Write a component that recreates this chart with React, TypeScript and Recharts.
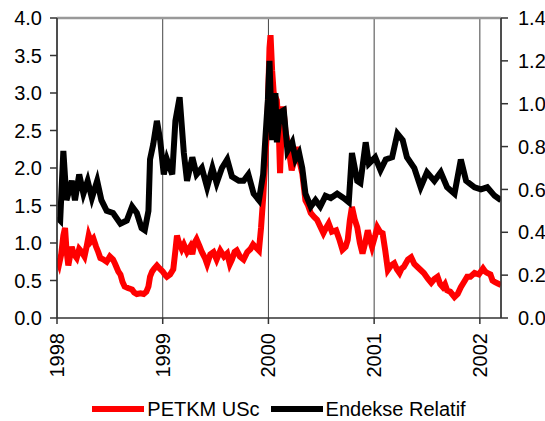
import { LineChart, Line, XAxis, YAxis, CartesianGrid, ReferenceLine, Legend } from "recharts";

// PETKM USc (left axis)
const petkmDates = [
  1998.0, 1998.02, 1998.04, 1998.06, 1998.076, 1998.09, 1998.107, 1998.12, 1998.139, 1998.16,
  1998.186, 1998.21, 1998.234, 1998.26, 1998.28, 1998.3, 1998.32, 1998.344, 1998.37, 1998.39,
  1998.41, 1998.44, 1998.47, 1998.5, 1998.53, 1998.55, 1998.58, 1998.6, 1998.62, 1998.64,
  1998.67, 1998.71, 1998.73, 1998.755, 1998.79, 1998.82, 1998.845, 1998.865, 1998.88, 1998.9,
  1998.92, 1998.945, 1998.97, 1999.0, 1999.02, 1999.04, 1999.07, 1999.1, 1999.12, 1999.135,
  1999.15, 1999.18, 1999.2, 1999.23, 1999.26, 1999.28, 1999.3, 1999.32, 1999.35, 1999.37,
  1999.4, 1999.42, 1999.45, 1999.48, 1999.51, 1999.545, 1999.58, 1999.61, 1999.635, 1999.655,
  1999.68, 1999.7, 1999.73, 1999.765, 1999.8, 1999.83, 1999.855, 1999.875, 1999.91, 1999.93,
  1999.95, 1999.97, 1999.99, 2000.01, 2000.02, 2000.035, 2000.05, 2000.08, 2000.1, 2000.11,
  2000.125, 2000.14, 2000.16, 2000.19, 2000.22, 2000.245, 2000.27, 2000.3, 2000.32, 2000.35,
  2000.375, 2000.4, 2000.43, 2000.46, 2000.49, 2000.52, 2000.545, 2000.57, 2000.6, 2000.64,
  2000.67, 2000.7, 2000.73, 2000.75, 2000.77, 2000.79, 2000.815, 2000.84, 2000.865, 2000.89,
  2000.915, 2000.94, 2000.96, 2000.98, 2001.01, 2001.03, 2001.055, 2001.08, 2001.105, 2001.13,
  2001.16, 2001.19, 2001.215, 2001.24, 2001.26, 2001.28, 2001.32, 2001.35, 2001.38, 2001.41,
  2001.44, 2001.47, 2001.51, 2001.54, 2001.57, 2001.6, 2001.625, 2001.65, 2001.67, 2001.69,
  2001.72, 2001.76, 2001.79, 2001.82, 2001.85, 2001.88, 2001.91, 2001.95, 2001.99, 2002.03,
  2002.05, 2002.07, 2002.1, 2002.12, 2002.14, 2002.17, 2002.2,
];
const petkmValues = [
  0.8, 0.72, 0.85, 1.1, 1.2, 0.9, 0.7, 0.8, 0.95, 0.85,
  0.8, 0.92, 0.88, 0.82, 0.95, 1.1, 1.02, 1.06, 0.95, 0.88,
  0.8, 0.78, 0.75, 0.82, 0.78, 0.72, 0.62, 0.58, 0.48, 0.42,
  0.4, 0.38, 0.34, 0.32, 0.33, 0.32, 0.35, 0.42, 0.55, 0.62,
  0.66, 0.7, 0.66, 0.62, 0.58, 0.55, 0.58, 0.65, 0.9, 1.1,
  1.02, 0.92, 0.98, 0.88, 0.95, 0.85, 1.0, 1.05, 0.95, 0.88,
  0.8, 0.72, 0.85, 0.88, 0.78, 0.9, 0.82, 0.86, 0.72, 0.78,
  0.88, 0.9, 0.82, 0.78, 0.88, 0.92, 0.98, 0.95, 0.9, 1.2,
  1.6, 2.1, 2.6, 3.6, 3.77, 3.3, 3.0, 2.9, 2.4, 1.93,
  2.5, 2.82, 2.5, 2.28, 1.97, 2.1, 2.28, 2.05, 1.93, 1.57,
  1.5, 1.4, 1.35, 1.31, 1.22, 1.13, 1.2, 1.26, 1.15, 1.17,
  1.05, 0.91, 0.95, 1.04, 1.3, 1.48, 1.32, 1.21, 1.0, 0.86,
  1.0, 1.17, 1.05, 0.95, 1.1, 1.21, 1.15, 1.13, 0.9, 0.64,
  0.7, 0.73, 0.65, 0.6, 0.66, 0.68, 0.78, 0.81, 0.72, 0.68,
  0.64, 0.6, 0.52, 0.47, 0.52, 0.55, 0.45, 0.41, 0.45, 0.37,
  0.35, 0.28, 0.32, 0.41, 0.48, 0.55, 0.55, 0.6, 0.58, 0.66,
  0.62, 0.6, 0.58, 0.5, 0.48, 0.46, 0.44,
];

// Endekse Relatif (right axis)
const endeksDates = [
  1998.0, 1998.03, 1998.06, 1998.09, 1998.14, 1998.17, 1998.21, 1998.25, 1998.29, 1998.33,
  1998.38, 1998.42, 1998.47, 1998.53, 1998.6, 1998.66, 1998.71, 1998.755, 1998.8, 1998.83,
  1998.865, 1998.88, 1998.91, 1998.945, 1998.976, 1999.01, 1999.04, 1999.09, 1999.12, 1999.16,
  1999.2, 1999.23, 1999.28, 1999.32, 1999.37, 1999.42, 1999.47, 1999.51, 1999.56, 1999.61,
  1999.655, 1999.72, 1999.765, 1999.81, 1999.86, 1999.91, 1999.95, 1999.97, 1999.995, 2000.01,
  2000.035, 2000.066, 2000.08, 2000.11, 2000.145, 2000.18, 2000.225, 2000.256, 2000.29, 2000.32,
  2000.35, 2000.4, 2000.445, 2000.49, 2000.54, 2000.59, 2000.65, 2000.71, 2000.76, 2000.79,
  2000.84, 2000.87, 2000.92, 2000.95, 2001.01, 2001.06, 2001.11, 2001.17, 2001.22, 2001.27,
  2001.31, 2001.38, 2001.44, 2001.5, 2001.57, 2001.63, 2001.69, 2001.76, 2001.82, 2001.87,
  2001.95, 2002.01, 2002.07, 2002.14, 2002.2,
];
const endeksValues = [
  0.47, 0.455, 0.78, 0.55, 0.64, 0.55, 0.67, 0.58, 0.64, 0.56,
  0.64, 0.55, 0.5, 0.49, 0.44, 0.455, 0.52, 0.49, 0.42, 0.41,
  0.5, 0.74, 0.81, 0.92, 0.83, 0.67, 0.74, 0.67, 0.92, 1.03,
  0.77, 0.64, 0.75, 0.67, 0.7, 0.61, 0.7, 0.63, 0.7, 0.74,
  0.66, 0.64, 0.64, 0.67, 0.58, 0.55, 0.67, 0.83, 1.02, 1.2,
  0.83, 1.05, 0.82, 0.96, 0.97, 0.78, 0.82, 0.74, 0.77, 0.7,
  0.58, 0.52, 0.55, 0.52, 0.57, 0.56, 0.58, 0.56, 0.54, 0.77,
  0.64, 0.63, 0.82, 0.72, 0.75, 0.69, 0.74, 0.75, 0.86, 0.83,
  0.75, 0.7, 0.61, 0.68, 0.64, 0.68, 0.61, 0.58, 0.74, 0.64,
  0.61, 0.6, 0.61, 0.57, 0.55,
];

const yearTicks = [1998, 1999, 2000, 2001, 2002];
const leftTicks = [0, 0.5, 1, 1.5, 2, 2.5, 3, 3.5, 4];
const rightTicks = [0, 0.2, 0.4, 0.6, 0.8, 1.0, 1.2, 1.4];

const petkmData = petkmDates.map((t, i) => ({ t, v: petkmValues[i] }));
const endeksData = endeksDates.map((t, i) => ({ t, v: endeksValues[i] }));

const YearTick = ({ x, y, payload }: any) => (
  <text
    x={x + 7}
    y={y + 7}
    transform={`rotate(-90, ${x + 7}, ${y + 7})`}
    textAnchor="end"
    fontSize={20}
    fill="#000"
  >
    {payload.value}
  </text>
);

const LegendBox = () => (
  <div
    style={{
      height: 38,
      boxSizing: "border-box",
      paddingTop: 14,
      paddingLeft: 13,
      display: "flex",
      alignItems: "center",
      justifyContent: "center",
      fontSize: 20,
      lineHeight: "22px",
      color: "#000",
    }}
  >
    <span style={{ width: 52, height: 6, background: "#ff0000", display: "inline-block", marginRight: 3 }} />
    <span style={{ marginRight: 11 }}>PETKM USc</span>
    <span style={{ width: 52, height: 6, background: "#000", display: "inline-block", marginRight: 3 }} />
    <span>Endekse Relatif</span>
  </div>
);

export default function App() {
  return (
    <div style={{ position: "absolute", left: 0, top: 0, fontFamily: "'Liberation Sans', Arial, sans-serif" }}>
      <LineChart width={545} height={421} margin={{ top: 18, right: 0, left: 0, bottom: 0 }}>
        <CartesianGrid horizontal={false} stroke="#444" />
        <XAxis
          dataKey="t"
          type="number"
          domain={[1998, 2002.2]}
          ticks={yearTicks}
          interval={0}
          height={65}
          tickSize={6}
          tick={<YearTick />}
          stroke="#333"
          strokeWidth={1.5}
          allowDataOverflow
        />
        <YAxis
          yAxisId="left"
          domain={[0, 4]}
          ticks={leftTicks}
          interval={0}
          width={57}
          tickSize={7}
          tickMargin={8}
          tickFormatter={(v: number) => v.toFixed(1)}
          tick={{ fill: "#000", fontSize: 20 }}
          stroke="#333"
          strokeWidth={1.5}
        />
        <YAxis
          yAxisId="right"
          orientation="right"
          domain={[0, 1.4]}
          ticks={rightTicks}
          interval={0}
          width={44}
          tickSize={7}
          tickMargin={10}
          tickFormatter={(v: number) => v.toFixed(1)}
          tick={{ fill: "#000", fontSize: 20, textAnchor: "start" }}
          stroke="#333"
          strokeWidth={1.5}
        />
        <ReferenceLine yAxisId="left" y={4} stroke="#999" strokeWidth={2.5} />
        <Line
          yAxisId="left"
          data={petkmData}
          dataKey="v"
          stroke="#ff0000"
          strokeWidth={6}
          dot={false}
          type="linear"
          isAnimationActive={false}
        />
        <Line
          yAxisId="right"
          data={endeksData}
          dataKey="v"
          stroke="#000"
          strokeWidth={6}
          dot={false}
          type="linear"
          isAnimationActive={false}
        />
        <Legend verticalAlign="bottom" height={38} content={() => <LegendBox />} />
      </LineChart>
    </div>
  );
}
